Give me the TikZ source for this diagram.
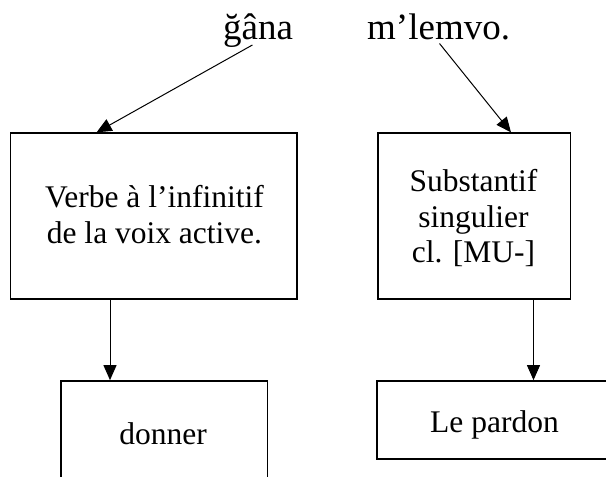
\documentclass[tikz,border=0pt]{standalone}
\usepackage{fontspec}
\setmainfont{Liberation Serif}
\usetikzlibrary{arrows.meta}
\begin{document}
\begin{tikzpicture}[x=1pt,y=-1pt,
  boxnode/.style={draw,line width=1.7pt,inner sep=0pt},
  boxtext/.style={inner sep=0pt,align=center,font=\fontsize{31.5}{35.5}\selectfont},
  toplabel/.style={inner sep=0pt,anchor=base west,font=\fontsize{37}{42}\selectfont},
  arr/.style={line width=1pt,-{Triangle[length=15pt,width=13pt]}}]
\useasboundingbox (0,0) rectangle (606,477);
\clip (0,0) rectangle (606,477);
\node[toplabel] (ga) at (223,39.5) {ğâna};
\node[toplabel] (ml) at (367,39.5) {m’lemvo.};
% boxes
\node[boxnode,minimum width=286.6pt,minimum height=166pt] (v) at (153.7,216.2) {};
\node[boxnode,minimum width=192.5pt,minimum height=166pt] (s) at (474.2,216.2) {};
\node[boxnode,minimum width=206.5pt,minimum height=105pt] (d) at (164.2,433.5) {};
\node[boxnode,minimum width=283pt,minimum height=78pt] (p) at (518.5,420) {};
% texts
\node[boxtext] (vt) at (154.5,214.5) {Verbe à l’infinitif\\de la voix active.};
\node[boxtext] (st) at (473.5,218.3) {Substantif\\singulier\\cl. [MU-]};
\node[boxtext,anchor=base] (dt) at (163,444) {donner};
\node[boxtext,anchor=base west] (pt) at (430,432.3) {Le pardon};
% connector ends
\coordinate (a1s) at (252.4,45);
\coordinate (a1e) at (96.6,0);
\coordinate (a2s) at (439.5,43.5);
\coordinate (a2e) at (511,0);
\coordinate (a3) at (110,0);
\coordinate (a4) at (533.5,0);
\draw[arr] (a1s) -- (v.north -| a1e);
\draw[arr] (a2s) -- (s.north -| a2e);
\draw[arr] (v.south -| a3) -- (d.north -| a3);
\draw[arr] (s.south -| a4) -- (p.north -| a4);
\end{tikzpicture}
\end{document}
